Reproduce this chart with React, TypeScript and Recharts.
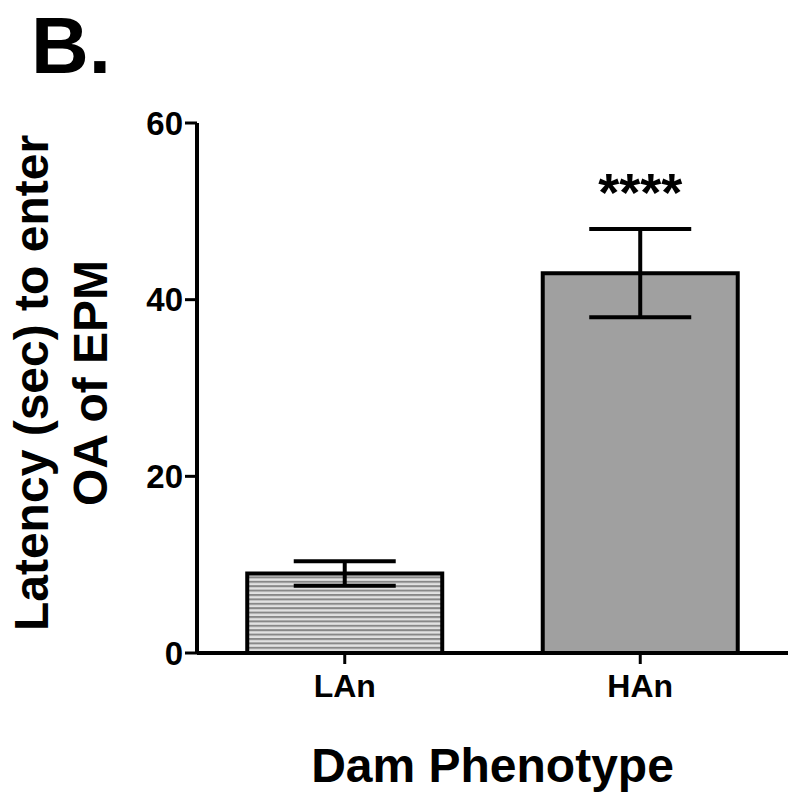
import { BarChart, Bar, XAxis, YAxis, ErrorBar, Cell, LabelList } from "recharts";

const groups = ["LAn", "HAn"];
const means = [9, 43];
const sems = [1.4, 5];
const stars = ["", "****"];
const yTicks = [0, 20, 40, 60];

const FONT = '"Liberation Sans", Arial, Helvetica, sans-serif';

const data = groups.map((g, i) => ({
  group: g,
  mean: means[i],
  err: sems[i],
  sig: stars[i],
}));

function YLabel(props: any) {
  const cy = 383;
  return (
    <g fontFamily={FONT} fontWeight="bold" fontSize={48} fill="#000">
      <text x={48} y={cy} textAnchor="middle" transform={`rotate(-90, 48, ${cy})`}>
        Latency (sec) to enter
      </text>
      <text x={107} y={cy} textAnchor="middle" transform={`rotate(-90, 107, ${cy})`}>
        OA of EPM
      </text>
    </g>
  );
}

function XLabel(props: any) {
  const vb = props.viewBox || {};
  return (
    <text
      x={vb.x + vb.width / 2}
      y={782}
      textAnchor="middle"
      fontFamily={FONT}
      fontWeight="bold"
      fontSize={48}
      fill="#000"
    >
      Dam Phenotype
    </text>
  );
}

function Stars(props: any) {
  const { x, y, width, value } = props;
  if (!value) return null;
  return (
    <text
      x={x + width / 2}
      y={y - 62}
      textAnchor="middle"
      fontFamily={FONT}
      fontWeight="bold"
      fontSize={54}
      fill="#000"
    >
      {value}
    </text>
  );
}

export default function App() {
  return (
    <div style={{ position: "absolute", left: 0, top: 0, width: 800, height: 807, background: "#fff" }}>
      <BarChart
        width={800}
        height={807}
        data={data}
        margin={{ top: 123, right: 12, bottom: 0, left: 0 }}
        barCategoryGap="17%"
      >
        <defs>
          <pattern id="hatch" patternUnits="userSpaceOnUse" width={10} height={4.4}>
            <rect x={0} y={0} width={10} height={4.4} fill="#e2e2e2" />
            <rect x={0} y={0} width={10} height={2} fill="#888888" />
          </pattern>
        </defs>
        <XAxis
          dataKey="group"
          height={154}
          axisLine={{ stroke: "#000", strokeWidth: 4 }}
          tickLine={{ stroke: "#000", strokeWidth: 3 }}
          tickSize={11}
          tickMargin={10}
          tick={{ fill: "#000", fontFamily: FONT, fontWeight: "bold", fontSize: 32 }}
          label={<XLabel />}
        />
        <YAxis
          width={197}
          domain={[0, 60]}
          ticks={yTicks}
          axisLine={{ stroke: "#000", strokeWidth: 4 }}
          tickLine={{ stroke: "#000", strokeWidth: 3 }}
          tickSize={12}
          tickMargin={2}
          tick={{ fill: "#000", fontFamily: FONT, fontWeight: "bold", fontSize: 33 }}
          label={<YLabel />}
        />
        <Bar dataKey="mean" stroke="#000" strokeWidth={4} isAnimationActive={false}>
          {data.map((d, i) => (
            <Cell key={i} fill={i === 0 ? "url(#hatch)" : "#a0a0a0"} />
          ))}
          <ErrorBar dataKey="err" width={51} stroke="#000" strokeWidth={4} direction="y" />
          <LabelList dataKey="sig" content={<Stars />} />
        </Bar>
      </BarChart>
      <div
        style={{
          position: "absolute",
          left: 31,
          top: 0,
          fontFamily: FONT,
          fontWeight: "bold",
          fontSize: 80,
          color: "#000",
          lineHeight: "normal",
        }}
      >
        B.
      </div>
    </div>
  );
}
